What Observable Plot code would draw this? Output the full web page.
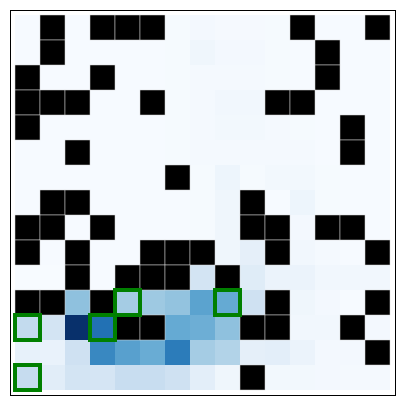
<!DOCTYPE html>
<html>
<head>
<meta charset="utf-8">
<script src="https://cdn.jsdelivr.net/npm/d3@7"></script>
<script src="https://cdn.jsdelivr.net/npm/@observablehq/plot@0.6"></script>
<style>
  html, body { margin: 0; padding: 0; background: #fff; }
</style>
</head>
<body>
<div id="chart"></div>
<script>
// Heatmap values, row by row (top to bottom); null = masked (black) cell
const row0  = [0.005, null, 0.005, null, null, null, 0.01, 0.02, 0.012, 0.012, 0.01, null, 0.005, 0.005, null];
const row1  = [0.005, null, 0.005, 0.005, 0.005, 0.005, 0.01, 0.04, 0.02, 0.02, 0.01, 0.005, null, 0.005, 0.005];
const row2  = [null, 0.005, 0.005, null, 0.005, 0.005, 0.01, 0.015, 0.015, 0.015, 0.01, 0.005, null, 0.005, 0.005];
const row3  = [null, null, null, 0.005, 0.005, null, 0.01, 0.015, 0.03, 0.03, null, null, 0.005, 0.005, 0.005];
const row4  = [null, 0.005, 0.005, 0.005, 0.005, 0.005, 0.01, 0.015, 0.025, 0.025, 0.015, 0.01, 0.005, null, 0.005];
const row5  = [0.005, 0.005, null, 0.005, 0.005, 0.005, 0.01, 0.015, 0.015, 0.015, 0.015, 0.015, 0.005, null, 0.005];
const row6  = [0.005, 0.005, 0.005, 0.005, 0.005, 0.005, null, 0.01, 0.05, 0.01, 0.025, 0.025, 0.01, 0.005, 0.005];
const row7  = [0.005, null, null, 0.005, 0.005, 0.005, 0.005, 0.01, 0.04, null, 0.005, 0.05, 0.01, 0.005, 0.005];
const row8  = [null, null, 0.005, null, 0.005, 0.005, 0.005, 0.01, 0.04, null, null, 0.02, null, null, 0.005];
const row9  = [null, 0.005, null, 0.005, 0.005, null, null, null, 0.04, 0.09, null, 0.03, 0.015, 0.005, null];
const row10 = [0.0, 0.0, null, 0.005, null, null, null, 0.18, null, 0.12, 0.06, 0.06, 0.03, 0.03, 0.03];
const row11 = [null, null, 0.41, null, 0.35, 0.37, 0.40, 0.55, 0.52, 0.2, null, 0.04, 0.02, 0.005, null];
const row12 = [0.25, 0.18, 1.0, 0.75, null, null, 0.52, 0.5, 0.41, null, null, 0.03, 0.03, null, 0.02];
const row13 = [0.08, 0.07, 0.2, 0.66, 0.56, 0.51, 0.71, 0.35, 0.31, 0.09, 0.1, 0.06, 0.02, 0.02, null];
const row14 = [0.24, 0.11, 0.18, 0.17, 0.23, 0.23, 0.2, 0.1, 0.04, null, 0.025, 0.025, 0.02, 0.015, 0.015];
const grid = [row0, row1, row2, row3, row4, row5, row6, row7, row8, row9, row10, row11, row12, row13, row14];

// Highlighted cells [row, col]
const highlights = [[11, 4], [11, 8], [12, 0], [12, 3], [14, 0]];

const idx = d3.range(15);
const cells = [];
grid.forEach((r, i) => r.forEach((v, j) => cells.push({row: i, col: j, value: v})));
const valid = cells.filter(d => d.value !== null);
const masked = cells.filter(d => d.value === null);
const hl = highlights.map(([row, col]) => ({row, col}));

const chart = Plot.plot({
  width: 405,
  height: 405,
  margin: 10,
  style: {background: "white"},
  x: {domain: idx, axis: null, padding: 0},
  y: {domain: idx, axis: null, padding: 0},
  color: {type: "linear", scheme: "blues", domain: [0, 1]},
  marks: [
    Plot.cell(valid, {x: "col", y: "row", fill: "value"}),
    Plot.cell(masked, {x: "col", y: "row", fill: "black", stroke: "#d8d8d8", strokeWidth: 0.5}),
    Plot.cell(hl, {x: "col", y: "row", fill: "none", stroke: "green", strokeWidth: 4, clip: "frame"}),
    Plot.frame({stroke: "black", strokeWidth: 1})
  ]
});
document.getElementById("chart").appendChild(chart);
</script>
</body>
</html>
